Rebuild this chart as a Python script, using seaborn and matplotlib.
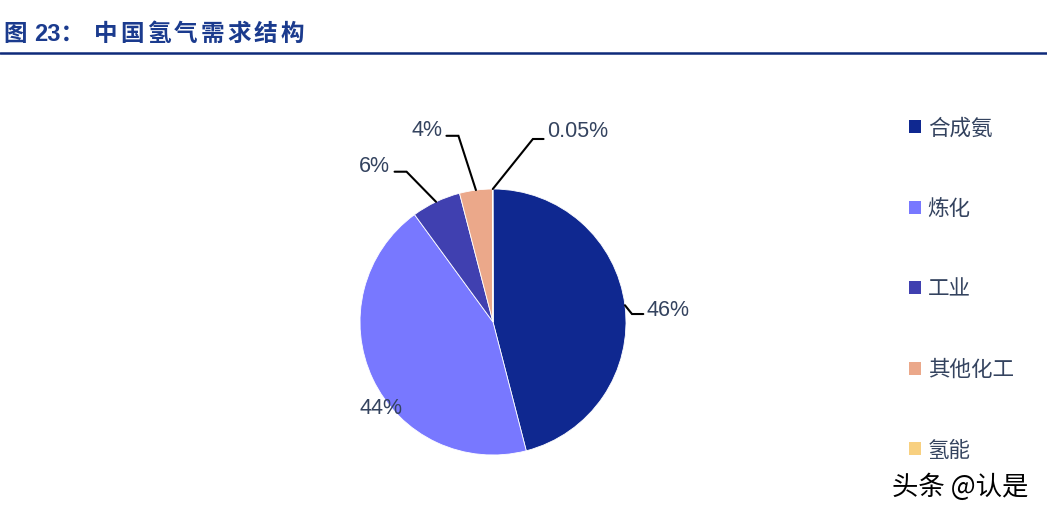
import numpy as np
import matplotlib
matplotlib.use("Agg")
import matplotlib.pyplot as plt
import seaborn as sns
from matplotlib.patches import Patch

sns.set_style("white")
plt.rcParams['font.family'] = ['Noto Sans CJK SC', 'DejaVu Sans']

# 数据
categorias = ['合成氨', '炼化', '工业', '其他化工', '氢能']
valores = [46, 44, 6, 4, 0.05]
rotulos = ['46%', '44%', '6%', '4%', '0.05%']
cores = ['#0F2890', '#7878FF', '#4040B0', '#EBA88A', '#F8D080']

cor_texto = '#34435F'
cor_titulo = '#1B3B8E'

fig = plt.figure(figsize=(10.47, 5.14), dpi=100)

# eixo do pizza: centro (493, 322) px, raio 133 px
R = 133
W, H = 1047, 514
cx, cy = 493, H - 322
ax = fig.add_axes([(cx - 1.6 * R) / W, (cy - 1.4 * R) / H, 3.2 * R / W, 3.0 * R / H])
wedges, _ = ax.pie(valores, colors=cores, startangle=90, counterclock=False,
                   radius=1, wedgeprops=dict(linewidth=0.6, edgecolor='white'))
ax.set_xlim(-1.6, 1.6)
ax.set_ylim(-1.4, 1.6)
ax.set_aspect('equal')
ax.axis('off')

# rótulos: (texto xy, cotovelo, fim da linha, alinhamento) — None = sem linha
layout = [
    ((1.155, 0.09), (1.045, 0.06), (1.13, 0.06), 'left'),
    ((-0.84, -0.65), None, None, 'center'),
    ((-0.89, 1.17), (-0.65, 1.13), (-0.74, 1.13), 'center'),
    ((-0.50, 1.44), (-0.26, 1.40), (-0.35, 1.40), 'center'),
    ((0.41, 1.43), (0.30, 1.376), (0.38, 1.376), 'left'),
]

for w, txt, (pos, joelho, fim, ha) in zip(wedges, rotulos, layout):
    ang = np.deg2rad((w.theta1 + w.theta2) / 2)
    ax.text(pos[0], pos[1], txt, ha=ha, va='center', fontsize=15.5,
            color=cor_texto, family=['Liberation Sans', 'DejaVu Sans'])
    if joelho is not None:
        xs = [np.cos(ang), joelho[0], fim[0]]
        ys = [np.sin(ang), joelho[1], fim[1]]
        ax.plot(xs, ys, color='black', lw=1.5, clip_on=False,
                solid_joinstyle='miter')

# legenda
handles = [Patch(facecolor=c, edgecolor='none') for c in cores]
leg = fig.legend(handles, categorias, loc='upper left',
                 bbox_to_anchor=(890 / W, 1 - 98 / H), frameon=False,
                 fontsize=15.5, handlelength=0.55, handleheight=0.55,
                 handletextpad=0.3, labelspacing=2.72)
for t in leg.get_texts():
    t.set_color(cor_texto)

# título (espaçamento entre caracteres) e linha
y_tit = 1 - 34 / H
fig.text(3 / W, y_tit, '图', fontsize=17, fontweight='bold', color=cor_titulo,
         va='center', ha='left')
fig.text(34 / W, y_tit, '23：', fontsize=17, fontweight='bold', color=cor_titulo,
         va='center', ha='left', family=['Liberation Sans', 'Noto Sans CJK SC'])
for i, ch in enumerate('中国氢气需求结构'):
    fig.text((94 + 26.6 * i) / W, y_tit, ch, fontsize=17, fontweight='bold',
             color=cor_titulo, va='center', ha='left')
fig.add_artist(plt.Line2D([0, 1], [1 - 53 / H, 1 - 53 / H],
                          color='#0F2A7A', lw=1.8, transform=fig.transFigure))

# marca d'água
fig.text(892 / W, 1 - 487 / H, '头条 @认是', fontsize=19, color='black',
         va='center', ha='left')

fig.savefig('out.png', dpi=100)
